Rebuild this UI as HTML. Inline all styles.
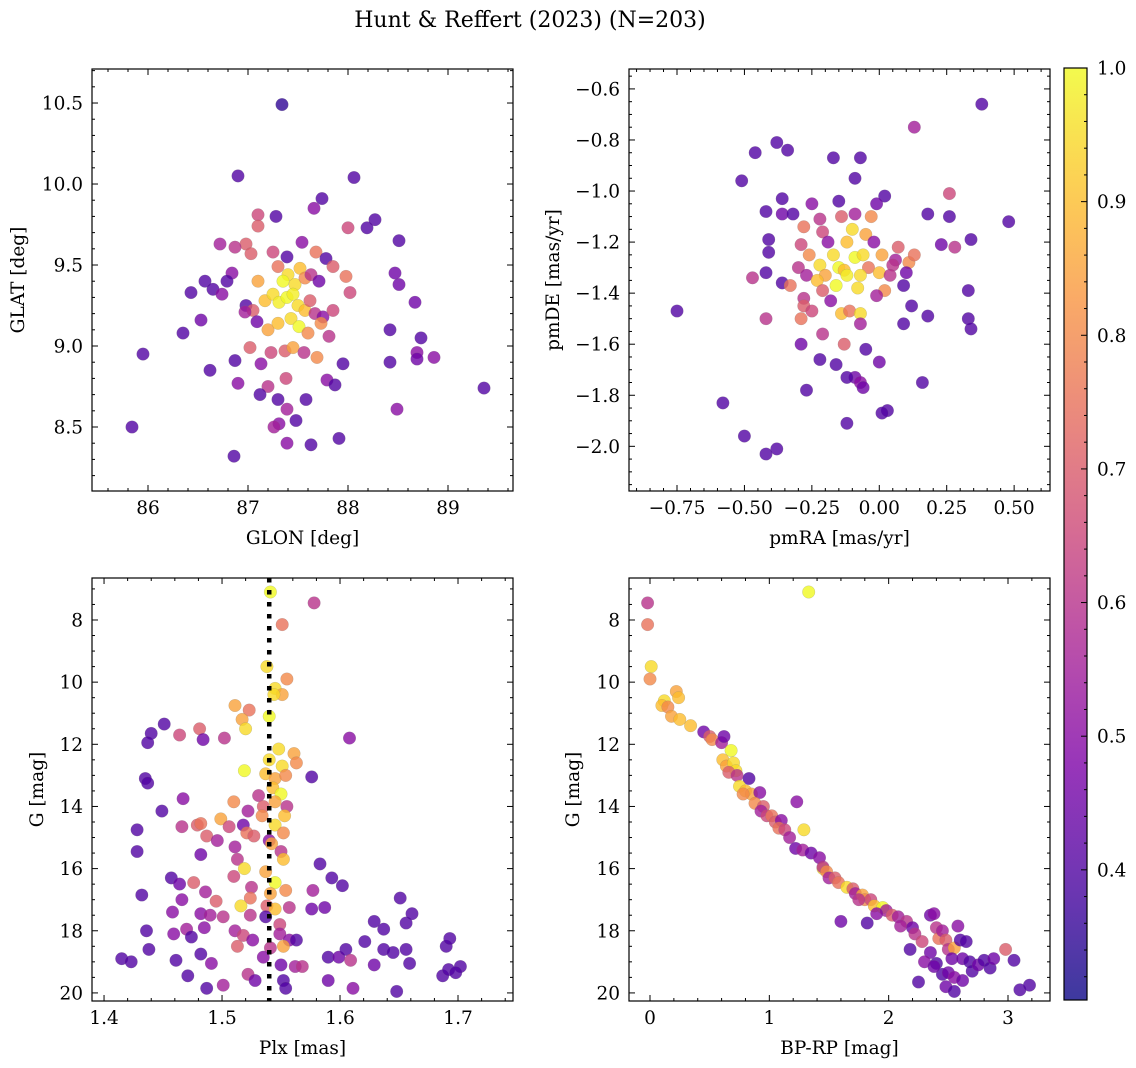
<!DOCTYPE html>
<html><head><meta charset="utf-8"><style>
html,body{margin:0;padding:0;background:#fff;}
svg{display:block;font-family:"DejaVu Serif","Liberation Serif",serif;}
</style></head><body>
<svg id="fig" width="1136" height="1068" viewBox="0 0 1136 1068">
<text x="530" y="27" text-anchor="middle" font-size="22">Hunt &amp; Reffert (2023) (N=203)</text>
</svg>
<script>
// ---------- data ----------
// panel 1: GLON, GLAT, membership probability
const p1Lon=[87.34,86.90,88.06,87.74,87.66,87.10,87.28,88.27,88.19,87.10,88.00,88.51,86.72,86.98,86.87,87.54,87.68,87.03,87.25,87.39,87.78,87.30,87.85,86.84,87.98,88.47,86.43,86.57,86.65,86.74,86.79,87.10,87.40,87.35,87.47,87.52,87.57,87.63,87.71,88.02,88.51,88.67,86.98,87.05,87.17,87.25,87.31,87.39,87.45,87.50,87.57,87.62,87.67,87.75,87.85,86.35,86.53,86.97,87.09,87.20,87.30,87.43,87.51,87.60,87.73,87.81,88.42,88.73,85.95,86.62,86.87,87.02,87.13,87.23,87.37,87.45,87.56,87.69,87.95,88.42,88.69,88.69,88.86,89.36,87.20,87.38,87.79,87.87,86.90,87.12,87.30,87.58,88.49,87.39,87.48,87.31,87.26,85.84,87.91,87.63,87.39,86.86];
const p1Lat=[10.49,10.05,10.04,9.91,9.85,9.81,9.80,9.78,9.73,9.74,9.73,9.65,9.63,9.63,9.61,9.64,9.58,9.57,9.58,9.55,9.54,9.49,9.49,9.45,9.43,9.45,9.33,9.40,9.35,9.32,9.40,9.40,9.44,9.40,9.38,9.48,9.42,9.44,9.40,9.33,9.38,9.27,9.25,9.22,9.28,9.32,9.27,9.30,9.32,9.25,9.22,9.28,9.20,9.18,9.22,9.08,9.16,9.21,9.15,9.10,9.14,9.17,9.12,9.08,9.14,9.06,9.10,9.05,8.95,8.85,8.91,8.99,8.89,8.96,8.97,8.99,8.96,8.93,8.89,8.90,8.96,8.92,8.93,8.74,8.75,8.80,8.79,8.76,8.77,8.70,8.67,8.67,8.61,8.61,8.54,8.52,8.50,8.50,8.43,8.39,8.40,8.32];
const p1Prob=[.35,.4,.4,.4,.5,.65,.4,.4,.4,.7,.65,.4,.55,.7,.6,.5,.75,.7,.65,.4,.4,.75,.7,.5,.75,.45,.4,.4,.4,.5,.4,.85,.95,1.0,.95,.9,.8,.6,.45,.65,.45,.45,.4,.7,.9,.95,.98,1.0,.98,.95,.9,.7,.6,.5,.65,.4,.45,.55,.45,.85,.9,.95,1.0,.8,.8,.6,.4,.4,.4,.4,.4,.7,.5,.65,.7,.85,.6,.8,.4,.4,.5,.45,.5,.4,.6,.65,.5,.4,.5,.4,.4,.4,.5,.55,.4,.5,.55,.4,.4,.4,.5,.4];
// panel 2: pmRA, pmDE
const p2Ra=[0.38,0.13,-0.38,-0.34,-0.46,-0.17,-0.07,-0.51,-0.09,0.26,-0.36,0.02,-0.01,-0.15,-0.25,-0.42,-0.36,-0.32,-0.09,0.18,0.26,0.48,-0.22,-0.14,-0.03,-0.28,-0.21,-0.10,-0.05,-0.19,-0.29,-0.12,-0.02,0.07,0.23,0.28,0.34,-0.41,-0.41,-0.26,-0.17,-0.09,-0.06,0.01,0.06,0.11,0.13,-0.30,-0.22,-0.15,-0.13,-0.04,0.05,-0.47,-0.42,-0.27,-0.20,-0.12,-0.07,0.00,0.04,0.10,-0.36,-0.33,-0.23,-0.16,-0.08,0.02,0.09,0.33,-0.28,-0.21,-0.01,-0.28,-0.18,0.12,-0.75,-0.25,-0.14,-0.11,-0.07,-0.29,0.18,0.33,-0.42,-0.07,0.09,-0.21,0.34,-0.29,-0.13,-0.05,-0.22,-0.16,0.00,-0.09,-0.12,0.16,-0.07,-0.06,-0.27,-0.58,0.03,0.01,-0.12,-0.50,-0.38,-0.42];
const p2De=[-0.66,-0.75,-0.81,-0.84,-0.85,-0.87,-0.87,-0.96,-0.95,-1.01,-1.03,-1.02,-1.05,-1.04,-1.05,-1.08,-1.09,-1.09,-1.09,-1.09,-1.10,-1.12,-1.11,-1.10,-1.10,-1.14,-1.16,-1.15,-1.17,-1.20,-1.21,-1.20,-1.20,-1.22,-1.21,-1.22,-1.19,-1.19,-1.24,-1.25,-1.25,-1.26,-1.25,-1.25,-1.27,-1.28,-1.25,-1.30,-1.29,-1.30,-1.31,-1.30,-1.29,-1.34,-1.32,-1.33,-1.33,-1.33,-1.33,-1.32,-1.33,-1.32,-1.36,-1.37,-1.35,-1.37,-1.38,-1.39,-1.37,-1.39,-1.42,-1.39,-1.41,-1.45,-1.43,-1.45,-1.47,-1.47,-1.48,-1.47,-1.48,-1.50,-1.49,-1.50,-1.50,-1.52,-1.52,-1.56,-1.54,-1.60,-1.60,-1.62,-1.66,-1.68,-1.67,-1.73,-1.73,-1.75,-1.75,-1.77,-1.78,-1.83,-1.86,-1.87,-1.91,-1.96,-2.01,-2.03];
const p2Prob=[.4,.55,.4,.4,.4,.4,.4,.4,.4,.65,.4,.4,.45,.4,.5,.4,.45,.4,.55,.4,.4,.4,.6,.7,.8,.75,.65,.95,.85,.5,.65,.9,.5,.7,.45,.6,.4,.4,.4,.8,.95,1.0,.95,.85,.55,.8,.75,.6,.95,1.0,.9,.75,.6,.6,.4,.55,.85,.98,.95,.9,.6,.45,.4,.75,.9,1.0,.95,.8,.4,.4,.6,.7,.55,.7,.5,.4,.4,.65,.9,.75,.95,.75,.4,.4,.6,.55,.4,.6,.4,.45,.7,.4,.4,.4,.45,.45,.4,.4,.5,.45,.4,.4,.4,.4,.4,.4,.4,.4];
// panel 3: Plx, G
const p3Plx=[1.541,1.578,1.551,1.538,1.555,1.545,1.551,1.511,1.523,1.544,1.540,1.517,1.451,1.440,1.481,1.464,1.502,1.484,1.520,1.608,1.437,1.548,1.561,1.540,1.551,1.563,1.519,1.537,1.545,1.554,1.576,1.435,1.437,1.543,1.550,1.467,1.531,1.510,1.545,1.555,1.535,1.449,1.522,1.534,1.553,1.428,1.466,1.479,1.482,1.499,1.506,1.518,1.545,1.552,1.487,1.496,1.521,1.527,1.540,1.542,1.482,1.428,1.511,1.550,1.552,1.583,1.513,1.519,1.537,1.510,1.457,1.464,1.476,1.545,1.554,1.577,1.593,1.602,1.525,1.432,1.486,1.524,1.541,1.466,1.495,1.516,1.538,1.545,1.557,1.576,1.587,1.651,1.458,1.482,1.490,1.501,1.524,1.537,1.549,1.629,1.637,1.656,1.661,1.436,1.459,1.470,1.474,1.485,1.511,1.518,1.526,1.549,1.557,1.563,1.513,1.541,1.552,1.590,1.599,1.605,1.621,1.637,1.645,1.656,1.690,1.693,1.415,1.423,1.438,1.461,1.482,1.491,1.535,1.550,1.562,1.568,1.609,1.629,1.659,1.687,1.692,1.702,1.698,1.471,1.522,1.528,1.552,1.554,1.590,1.611,1.648,1.487,1.501];
const p3G=[7.1,7.45,8.15,9.5,9.9,10.2,10.4,10.75,10.9,10.4,11.1,11.2,11.35,11.65,11.5,11.7,11.8,11.85,11.5,11.8,11.95,12.15,12.3,12.5,12.7,12.6,12.85,12.95,13.1,13.0,13.05,13.1,13.25,13.4,13.6,13.75,13.65,13.85,13.85,14.0,14.0,14.15,14.15,14.3,14.3,14.75,14.65,14.6,14.55,14.4,14.65,14.6,14.6,14.85,14.95,15.1,14.85,14.95,15.1,15.2,15.55,15.45,15.3,15.45,15.7,15.85,15.7,16.0,16.1,16.25,16.3,16.5,16.45,16.45,16.7,16.7,16.3,16.55,16.6,16.85,16.75,16.95,16.8,17.0,17.05,17.2,17.2,17.3,17.25,17.3,17.25,16.95,17.4,17.45,17.5,17.55,17.5,17.55,17.8,17.7,17.95,17.75,17.45,18.0,18.1,17.95,18.2,17.9,18.0,18.15,18.3,18.1,18.3,18.3,18.5,18.55,18.5,18.85,18.85,18.6,18.35,18.6,18.7,18.6,18.5,18.25,18.9,19.0,18.6,18.95,18.75,19.05,18.85,19.1,19.15,19.15,18.95,19.1,19.05,19.45,19.25,19.15,19.35,19.45,19.4,19.6,19.6,19.85,19.6,19.85,19.95,19.85,19.75];
const p3Prob=[1.0,.6,.75,.95,.8,.95,.85,.85,.75,.95,1.0,.85,.4,.4,.7,.65,.6,.45,.95,.5,.4,.95,.85,.95,.95,.8,1.0,.9,.85,.8,.4,.4,.4,.9,1.0,.5,.6,.8,.85,.6,.7,.4,.55,.8,.9,.4,.6,.7,.75,.85,.65,.45,.95,.8,.7,.55,.75,.7,.5,.85,.45,.4,.55,.6,.9,.4,.6,.95,.85,.65,.4,.45,.7,1.0,.8,.55,.4,.4,.6,.4,.55,.75,.85,.5,.7,.95,.7,.9,.6,.45,.45,.4,.5,.5,.55,.6,.6,.4,.65,.4,.4,.4,.4,.4,.5,.55,.4,.5,.55,.65,.5,.55,.5,.4,.7,.6,.85,.4,.45,.4,.4,.4,.4,.4,.4,.4,.4,.4,.4,.4,.4,.5,.5,.45,.55,.6,.6,.45,.4,.4,.4,.4,.4,.4,.6,.45,.4,.4,.45,.5,.4,.4,.55,.5];
// panel 4: BP-RP, G
const p4Col=[-0.02,-0.02,1.33,0.01,0.0,0.12,0.22,0.24,0.10,0.15,0.18,0.25,0.34,0.45,0.50,0.52,0.60,0.62,0.68,0.61,0.64,0.70,0.72,0.66,0.73,0.83,0.75,0.80,0.85,0.78,0.92,0.88,0.95,0.93,0.98,1.02,1.05,1.10,1.08,1.13,1.23,1.29,1.17,1.22,1.28,1.35,1.42,1.45,1.45,1.48,1.50,1.55,1.58,1.60,1.65,1.70,1.72,1.78,1.80,1.85,1.88,1.82,1.95,1.98,2.03,2.08,2.15,2.20,2.22,2.18,2.28,2.25,2.35,2.38,2.40,2.42,2.45,2.48,2.50,2.55,2.53,2.58,2.60,2.62,2.65,2.68,2.40,2.45,2.50,2.55,2.48,2.55,2.62,2.70,2.75,2.80,2.85,2.88,2.98,3.05,3.10,3.18,2.35,2.30,2.38,1.75,1.90,2.10];
const p4G=[7.45,8.15,7.1,9.5,9.9,10.6,10.3,10.5,10.75,10.8,11.1,11.2,11.4,11.6,11.75,11.85,11.95,11.75,12.2,12.5,12.7,12.6,12.85,12.9,13.0,13.1,13.35,13.5,13.6,13.6,13.55,13.9,14.0,14.15,14.3,14.3,14.5,14.45,14.7,14.75,13.85,14.75,15.0,15.35,15.4,15.5,15.65,16.0,15.95,16.1,16.3,16.3,16.45,17.7,16.6,16.65,16.8,16.85,17.0,17.0,17.2,17.75,17.25,17.35,17.5,17.55,17.7,17.9,18.1,18.6,18.35,19.65,17.5,17.45,17.9,18.25,18.0,18.3,18.6,18.55,18.9,17.85,18.3,18.9,18.35,19.0,19.05,19.4,19.35,19.5,19.8,19.95,19.6,19.3,19.1,18.95,19.2,18.9,18.6,18.95,19.9,19.75,18.7,19.0,19.15,17.0,17.45,17.85];
const p4Prob=[.6,.75,1.0,.95,.8,.95,.85,.9,.9,.8,.85,.9,.9,.45,.7,.8,.55,.45,1.0,.9,.85,.95,.95,.7,.6,.4,.95,.9,.85,.8,.5,.8,.7,.55,.65,.75,.7,.5,.75,.65,.5,.95,.55,.45,.55,.45,.5,.95,.6,.8,.55,.7,.75,.45,.95,.7,.55,.85,.8,.65,.9,.4,1.0,.55,.7,.55,.6,.45,.6,.4,.65,.4,.45,.5,.6,.75,.55,.7,.6,.85,.45,.5,.4,.45,.4,.4,.4,.4,.45,.5,.45,.4,.45,.4,.45,.4,.4,.45,.7,.4,.4,.4,.45,.5,.45,.6,.5,.55];
const plxLine=1.54;
const cbTicks=[0.4,0.5,0.6,0.7,0.8,0.9,1.0];
const vmin=0.3026, vmax=1.0;

// ---------- drawing ----------
const NS='http://www.w3.org/2000/svg';
const svg=document.getElementById('fig');
const FS=18.5;
function mk(tag,attrs,parent){const e=document.createElementNS(NS,tag);for(const k in attrs)e.setAttribute(k,attrs[k]);(parent||svg).appendChild(e);return e;}
const stops=[[0,[13,8,135]],[0.125,[75,3,161]],[0.25,[125,3,168]],[0.375,[168,34,150]],[0.5,[203,70,121]],[0.625,[229,107,93]],[0.75,[248,148,65]],[0.875,[253,195,40]],[1,[240,249,33]]];
function plasma(t){t=Math.max(0,Math.min(1,t));for(let i=1;i<stops.length;i++){if(t<=stops[i][0]){const a=stops[i-1],b=stops[i];const f=(t-a[0])/(b[0]-a[0]);const c=a[1].map((v,j)=>Math.round(v+(b[1][j]-v)*f));return 'rgb('+c.join(',')+')';}}return 'rgb(240,249,33)';}
function fmt(v,d){let s=v.toFixed(d);if(v<0)s='\u2212'+s.slice(1);return s;}

function panel(cfg){
  const g=mk('g',{});
  
  
  const {x0,x1,y0,y1}=cfg;
  const sx=v=>x0+(v-cfg.xd[0])/(cfg.xd[1]-cfg.xd[0])*(x1-x0);
  const sy=cfg.yinv?(v=>y0+(v-cfg.yd[0])/(cfg.yd[1]-cfg.yd[0])*(y1-y0)):(v=>y1-(v-cfg.yd[0])/(cfg.yd[1]-cfg.yd[0])*(y1-y0));
  const clip='c'+cfg.name;
  const cp=mk('clipPath',{id:clip},g);mk('rect',{x:x0,y:y0,width:x1-x0,height:y1-y0},cp);
  const pts=mk('g',{'clip-path':'url(#'+clip+')'},g);
  
  
  for(let i=0;i<cfg.xs.length;i++){
    const c=mk('circle',{cx:sx(cfg.xs[i]).toFixed(1),cy:sy(cfg.ys[i]).toFixed(1),r:6.3,fill:plasma((cfg.ps[i]-vmin)/(vmax-vmin)),'fill-opacity':0.8,stroke:'#777','stroke-opacity':0.35,'stroke-width':0.5},pts);
    
    
  }
  if(cfg.vline!==undefined){
    const l=mk('line',{x1:sx(cfg.vline),x2:sx(cfg.vline),y1:y0,y2:y1,stroke:'#000','stroke-width':4.5,'stroke-dasharray':'4.5,7.5'},g);
    
    
  }
  const tk=mk('g',{stroke:'#000','stroke-width':1},g);
  const eps=1e-9;
  for(let v=Math.ceil(cfg.xd[0]/cfg.xmin-eps)*cfg.xmin;v<=cfg.xd[1]+eps;v+=cfg.xmin){
    const X=sx(v);const maj=Math.abs(v/cfg.xmaj-Math.round(v/cfg.xmaj))<1e-6;const L=maj?6:3;
    mk('line',{x1:X,x2:X,y1:y1,y2:y1-L},tk);mk('line',{x1:X,x2:X,y1:y0,y2:y0+L},tk);
  }
  for(let v=Math.ceil(cfg.yd[0]/cfg.ymin-eps)*cfg.ymin;v<=cfg.yd[1]+eps;v+=cfg.ymin){
    const Y=sy(v);const maj=Math.abs(v/cfg.ymaj-Math.round(v/cfg.ymaj))<1e-6;const L=maj?6:3;
    mk('line',{x1:x0,x2:x0+L,y1:Y,y2:Y},tk);mk('line',{x1:x1,x2:x1-L,y1:Y,y2:Y},tk);
  }
  mk('rect',{x:x0,y:y0,width:x1-x0,height:y1-y0,fill:'none',stroke:'#000','stroke-width':1.2},g);
  const xl=mk('g',{'font-size':FS,'text-anchor':'middle'},g);
  
  
  cfg.xticks.forEach(v=>{const t=mk('text',{x:sx(v),y:y1+23},xl);t.textContent=fmt(v,cfg.xdec);});
  const yl=mk('g',{'font-size':FS,'text-anchor':'end'},g);
  
  
  cfg.yticks.forEach(v=>{const t=mk('text',{x:x0-9,y:sy(v)+6.5},yl);t.textContent=fmt(v,cfg.ydec);});
  const xt=mk('text',{x:(x0+x1)/2,y:y1+53,'font-size':FS,'text-anchor':'middle'},g);
  xt.textContent=cfg.xlabel;
  
  
  const yt=mk('text',{x:0,y:0,'font-size':FS,'text-anchor':'middle',transform:'translate('+cfg.ylx+','+((y0+y1)/2)+') rotate(-90)'},g);
  yt.textContent=cfg.ylabel;
  
  
}
function range(a,b,s){const r=[];for(let v=a;v<=b+1e-9;v+=s)r.push(Math.round(v*1000)/1000);return r;}

panel({name:'glon-glat-panel',x0:92,x1:513,y0:69,y1:491,xd:[85.44,89.65],yd:[8.105,10.71],xs:p1Lon,ys:p1Lat,ps:p1Prob,xmaj:1,xmin:0.2,ymaj:0.5,ymin:0.1,xticks:[86,87,88,89],xdec:0,yticks:range(8.5,10.5,0.5),ydec:1,xlabel:'GLON [deg]',ylabel:'GLAT [deg]',ylx:24});
panel({name:'proper-motion-panel',x0:629,x1:1050,y0:69,y1:491,xd:[-0.928,0.633],yd:[-2.175,-0.522],xs:p2Ra,ys:p2De,ps:p2Prob,xmaj:0.25,xmin:0.05,ymaj:0.2,ymin:0.05,xticks:range(-0.75,0.5,0.25),xdec:2,yticks:range(-2.0,-0.6,0.2),ydec:1,xlabel:'pmRA [mas/yr]',ylabel:'pmDE [mas/yr]',ylx:559});
panel({name:'parallax-magnitude-panel',x0:92,x1:513,y0:578,y1:1001,xd:[1.3898,1.7466],yd:[6.649,20.26],yinv:true,xs:p3Plx,ys:p3G,ps:p3Prob,vline:plxLine,xmaj:0.1,xmin:0.02,ymaj:2,ymin:0.5,xticks:[1.4,1.5,1.6,1.7],xdec:1,yticks:range(8,20,2),ydec:0,xlabel:'Plx [mas]',ylabel:'G [mag]',ylx:43});
panel({name:'cmd-panel',x0:629,x1:1050,y0:578,y1:1001,xd:[-0.176,3.352],yd:[6.649,20.26],yinv:true,xs:p4Col,ys:p4G,ps:p4Prob,xmaj:1,xmin:0.2,ymaj:2,ymin:0.5,xticks:[0,1,2,3],xdec:0,yticks:range(8,20,2),ydec:0,xlabel:'BP-RP [mag]',ylabel:'G [mag]',ylx:579});

// colorbar
const cb=mk('g',{});


const cx0=1064,cx1=1087,cy0=68,cy1=1000;
const defs=mk('defs',{},cb);
const lg=mk('linearGradient',{id:'cbg',x1:0,y1:1,x2:0,y2:0},defs);
for(let i=0;i<=20;i++){mk('stop',{offset:i/20,'stop-color':plasma(i/20),'stop-opacity':0.8},lg);}
mk('rect',{x:cx0,y:cy0,width:cx1-cx0,height:cy1-cy0,fill:'url(#cbg)'},cb);
const cy=v=>cy1-(v-vmin)/(vmax-vmin)*(cy1-cy0);
const ct=mk('g',{stroke:'#000','stroke-width':1},cb);
for(let v=0.32;v<=1.0001;v+=0.02){const Y=cy(v);const maj=Math.abs(v*10-Math.round(v*10))<1e-6;mk('line',{x1:cx1,x2:cx1-(maj?6:3),y1:Y,y2:Y},ct);}
mk('rect',{x:cx0,y:cy0,width:cx1-cx0,height:cy1-cy0,fill:'none',stroke:'#000','stroke-width':1.2},cb);
const cl=mk('g',{'font-size':FS},cb);


cbTicks.forEach(v=>{const t=mk('text',{x:cx1+10,y:cy(v)+6.5},cl);t.textContent=v.toFixed(1);});
</script>
</body></html>
